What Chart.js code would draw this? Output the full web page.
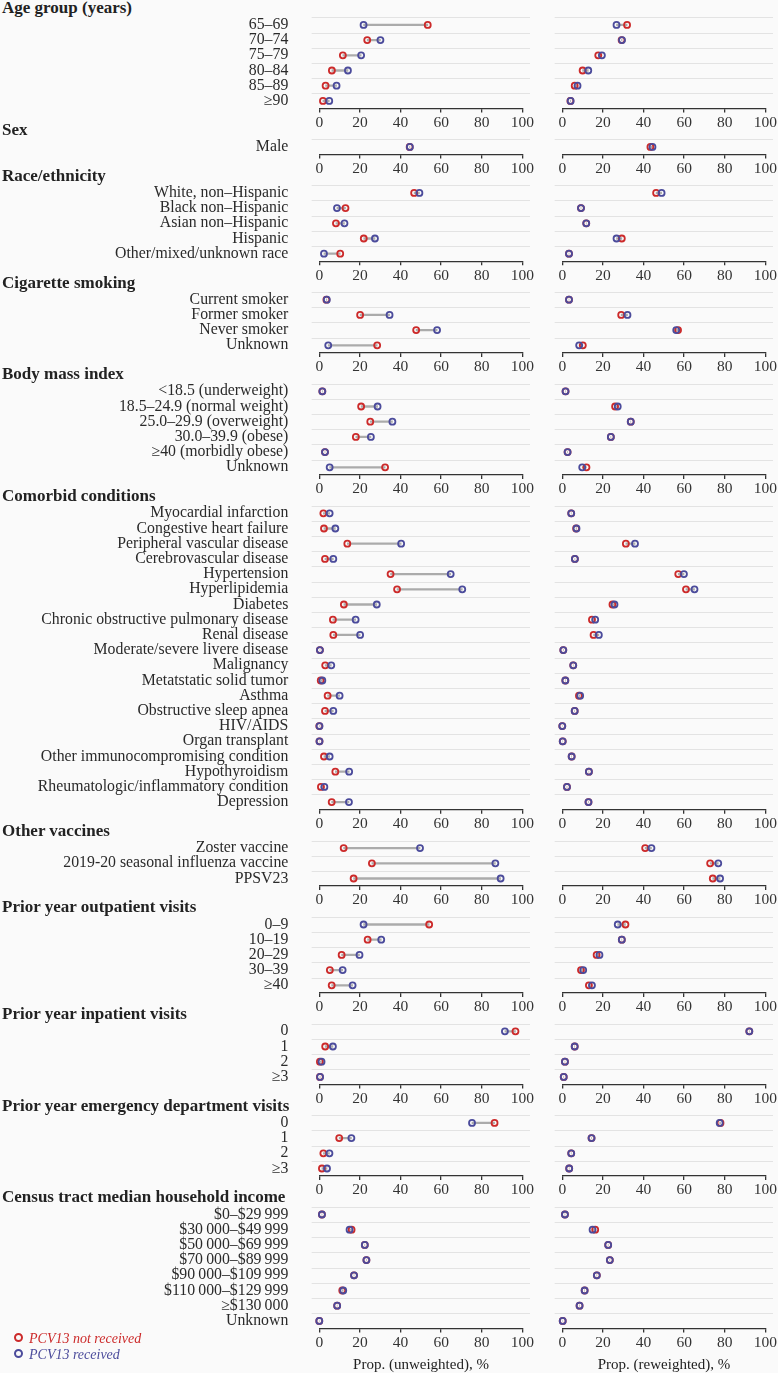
<!DOCTYPE html>
<html>
<head>
<meta charset="utf-8">
<script src="https://cdn.jsdelivr.net/npm/chart.js@4/dist/chart.umd.min.js"></script>
<style>
  html, body { margin: 0; padding: 0; background: #fafafa; }
  #page { position: relative; width: 778px; height: 1373px; overflow: hidden; background: #fafafa;
          font-family: 'Liberation Serif', 'Times New Roman', serif; color: #222; }
  canvas { position: absolute; }
  .head { position: absolute; left: 2px; font-weight: bold; font-size: 17px; line-height: 18px; white-space: nowrap; }
  .legend { position: absolute; left: 14px; font-style: italic; font-size: 14px; line-height: 16px; white-space: nowrap; }
  .legend span.dot { display: inline-block; width: 5px; height: 5px; border: 2px solid; border-radius: 50%;
                     margin-right: 6px; vertical-align: 1px; }
  .xtitle { position: absolute; width: 240px; text-align: center; font-size: 15px; line-height: 18px; color: #222; }
</style>
</head>
<body>
<div id="page"></div>
<script>
// ---- data (percent) ----
const ageLabels = ['65–69', '70–74', '75–79', '80–84', '85–89', '≥90'];
const ageUnwNot = [53.4, 23.6, 11.6, 6.2, 3.1, 1.8];
const ageUnwRec = [21.8, 30.1, 20.6, 14.1, 8.5, 4.9];
const ageRwNot = [31.9, 29.2, 17.7, 10.0, 6.1, 4.0];
const ageRwRec = [26.7, 29.4, 19.5, 12.8, 7.5, 4.1];

const sexLabels = ['Male'];
const sexUnwNot = [44.5];
const sexUnwRec = [44.6];
const sexRwNot = [43.4];
const sexRwRec = [44.4];

const raceLabels = ['White, non–Hispanic', 'Black non–Hispanic', 'Asian non–Hispanic', 'Hispanic', 'Other/mixed/unknown race'];
const raceUnwNot = [46.7, 12.9, 8.2, 21.9, 10.3];
const raceUnwRec = [49.3, 8.7, 12.4, 27.4, 2.3];
const raceRwNot = [46.2, 9.2, 11.8, 29.3, 3.3];
const raceRwRec = [48.9, 9.2, 11.8, 26.7, 3.3];

const smokeLabels = ['Current smoker', 'Former smoker', 'Never smoker', 'Unknown'];
const smokeUnwNot = [3.5, 20.1, 47.7, 28.5];
const smokeUnwRec = [3.7, 34.6, 58.0, 4.4];
const smokeRwNot = [3.3, 29.0, 57.0, 10.1];
const smokeRwRec = [3.3, 32.1, 56.1, 8.3];

const bmiLabels = ['<18.5 (underweight)', '18.5–24.9 (normal weight)', '25.0–29.9 (overweight)', '30.0–39.9 (obese)', '≥40 (morbidly obese)', 'Unknown'];
const bmiUnwNot = [1.5, 20.6, 25.1, 18.0, 2.8, 32.4];
const bmiUnwRec = [1.5, 28.7, 36.0, 25.4, 2.8, 5.1];
const bmiRwNot = [1.6, 26.0, 33.7, 23.9, 2.6, 11.9];
const bmiRwRec = [1.6, 27.3, 33.7, 23.9, 2.6, 9.8];

const comorbLabels = ['Myocardial infarction', 'Congestive heart failure', 'Peripheral vascular disease', 'Cerebrovascular disease',
  'Hypertension', 'Hyperlipidemia', 'Diabetes', 'Chronic obstructive pulmonary disease', 'Renal disease',
  'Moderate/severe livere disease', 'Malignancy', 'Metatstatic solid tumor', 'Asthma', 'Obstructive sleep apnea',
  'HIV/AIDS', 'Organ transplant', 'Other immunocompromising condition', 'Hypothyroidism',
  'Rheumatologic/inflammatory condition', 'Depression'];
const comorbUnwNot = [2.0, 2.3, 13.8, 2.8, 35.1, 38.3, 12.1, 6.7, 6.9, 0.3, 2.9, 0.7, 4.1, 2.8, 0.0, 0.1, 2.3, 7.9, 0.8, 6.1];
const comorbUnwRec = [5.1, 7.9, 40.3, 6.9, 64.7, 70.4, 28.3, 17.9, 20.1, 0.3, 5.9, 1.5, 10.0, 6.9, 0.1, 0.1, 5.1, 14.7, 2.5, 14.6];
const comorbRwNot = [4.4, 6.8, 31.3, 6.2, 57.1, 60.9, 24.7, 14.6, 15.4, 0.5, 5.4, 1.5, 8.2, 6.1, 0.0, 0.2, 4.6, 13.1, 2.3, 12.9];
const comorbRwRec = [4.4, 7.0, 35.8, 6.2, 59.9, 65.1, 25.7, 16.2, 18.0, 0.5, 5.4, 1.5, 8.8, 6.1, 0.0, 0.2, 4.6, 13.1, 2.3, 12.9];

const vaxLabels = ['Zoster vaccine', '2019-20 seasonal influenza vaccine', 'PPSV23'];
const vaxUnwNot = [12.0, 25.9, 16.9];
const vaxUnwRec = [49.6, 86.7, 89.3];
const vaxRwNot = [40.8, 72.8, 74.1];
const vaxRwRec = [43.9, 76.8, 77.7];

const outLabels = ['0–9', '10–19', '20–29', '30–39', '≥40'];
const outUnwNot = [54.1, 23.8, 11.0, 5.2, 6.1];
const outUnwRec = [21.8, 30.5, 19.8, 11.5, 16.4];
const outRwNot = [31.1, 29.3, 16.9, 9.2, 13.1];
const outRwRec = [27.3, 29.3, 18.3, 10.3, 14.6];

const inpLabels = ['0', '1', '2', '≥3'];
const inpUnwNot = [96.6, 2.9, 0.3, 0.3];
const inpUnwRec = [91.4, 6.7, 1.1, 0.4];
const inpRwNot = [92.1, 6.1, 1.3, 0.7];
const inpRwRec = [92.1, 6.1, 1.3, 0.7];

const edLabels = ['0', '1', '2', '≥3'];
const edUnwNot = [86.3, 9.8, 2.0, 1.3];
const edUnwRec = [75.2, 15.8, 5.0, 3.8];
const edRwNot = [77.9, 14.4, 4.4, 3.4];
const edRwRec = [77.5, 14.4, 4.4, 3.4];

const incLabels = ['$0–$29\u2009999', '$30\u2009000–$49\u2009999', '$50\u2009000–$69\u2009999', '$70\u2009000–$89\u2009999',
  '$90\u2009000–$109\u2009999', '$110\u2009000–$129\u2009999', '≥$130\u2009000', 'Unknown'];
const incUnwNot = [1.3, 15.9, 22.4, 23.2, 17.1, 11.3, 8.8, 0.0];
const incUnwRec = [1.3, 14.9, 22.4, 23.2, 17.1, 11.8, 8.8, 0.0];
const incRwNot = [1.3, 16.2, 22.6, 23.4, 17.0, 11.0, 8.5, 0.2];
const incRwRec = [1.3, 14.9, 22.6, 23.4, 17.0, 11.0, 8.5, 0.2];

const xTicks = [0, 20, 40, 60, 80, 100];

const sections = [
  { title: 'Age group (years)', labels: ageLabels, unw: [ageUnwNot, ageUnwRec], rw: [ageRwNot, ageRwRec] },
  { title: 'Sex', labels: sexLabels, unw: [sexUnwNot, sexUnwRec], rw: [sexRwNot, sexRwRec] },
  { title: 'Race/ethnicity', labels: raceLabels, unw: [raceUnwNot, raceUnwRec], rw: [raceRwNot, raceRwRec] },
  { title: 'Cigarette smoking', labels: smokeLabels, unw: [smokeUnwNot, smokeUnwRec], rw: [smokeRwNot, smokeRwRec] },
  { title: 'Body mass index', labels: bmiLabels, unw: [bmiUnwNot, bmiUnwRec], rw: [bmiRwNot, bmiRwRec] },
  { title: 'Comorbid conditions', labels: comorbLabels, unw: [comorbUnwNot, comorbUnwRec], rw: [comorbRwNot, comorbRwRec] },
  { title: 'Other vaccines', labels: vaxLabels, unw: [vaxUnwNot, vaxUnwRec], rw: [vaxRwNot, vaxRwRec] },
  { title: 'Prior year outpatient visits', labels: outLabels, unw: [outUnwNot, outUnwRec], rw: [outRwNot, outRwRec] },
  { title: 'Prior year inpatient visits', labels: inpLabels, unw: [inpUnwNot, inpUnwRec], rw: [inpRwNot, inpRwRec] },
  { title: 'Prior year emergency department visits', labels: edLabels, unw: [edUnwNot, edUnwRec], rw: [edRwNot, edRwRec] },
  { title: 'Census tract median household income', labels: incLabels, unw: [incUnwNot, incUnwRec], rw: [incRwNot, incRwRec] }
];

// ---- style / layout ----
const RED = '#cc2a2a';
const BLUE = '#4b4b9b';
const SERIF = "'Liberation Serif', 'Times New Roman', serif";
const ROW_H = 15.2;
const GAP = 30.8;
const FIRST_TOP = 17.3;
const X_AXIS_H = 24;

// light separators between rows, a bit wider than the plot area
const rowLines = {
    id: 'rowLines',
    beforeDatasetsDraw(chart) {
        const { ctx, chartArea: a, scales: { y } } = chart;
        ctx.save();
        ctx.strokeStyle = '#e3e3e3';
        ctx.lineWidth = 1;
        for (let i = 0; i < chart.data.labels.length; i++) {
            const yy = Math.round(y.getPixelForValue(i - 0.5)) + 0.5;
            ctx.beginPath();
            ctx.moveTo(a.left - 7.6, yy);
            ctx.lineTo(a.right + 7.6, yy);
            ctx.stroke();
        }
        ctx.restore();
    }
};

const page = document.getElementById('page');

function makePanel(sec, pair, left, secTop, showLabels) {
    const n = sec.labels.length;
    const cv = document.createElement('canvas');
    const cLeft = left ? 0 : 545;
    const cWidth = left ? 535 : 233;
    const cTop = Math.floor(secTop - 11);
    const padTop = secTop - cTop;
    const cHeight = Math.ceil(padTop + n * ROW_H + X_AXIS_H + 1);
    const padBottom = cHeight - padTop - n * ROW_H - X_AXIS_H;
    cv.width = cWidth;
    cv.height = cHeight;
    cv.style.left = cLeft + 'px';
    cv.style.top = cTop + 'px';
    page.appendChild(cv);

    const [notRec, rec] = pair;
    const pointDs = (data, color, order) => ({
        type: 'line',
        indexAxis: 'y',
        data: data,
        showLine: false,
        pointRadius: 3,
        pointHoverRadius: 3,
        pointBorderWidth: 1.8,
        pointBorderColor: color,
        pointBackgroundColor: 'rgba(0,0,0,0)',
        clip: false,
        order: order
    });

    new Chart(cv, {
        type: 'bar',
        data: {
            labels: sec.labels,
            datasets: [
                {
                    type: 'bar',
                    indexAxis: 'y',
                    data: sec.labels.map((_, i) => [notRec[i], rec[i]]),
                    backgroundColor: '#ababab',
                    barThickness: 1.6,
                    borderSkipped: false,
                    order: 3
                },
                pointDs(notRec, RED, 2),
                pointDs(rec, BLUE, 1)
            ]
        },
        options: {
            indexAxis: 'y',
            responsive: false,
            animation: false,
            events: [],
            layout: { padding: { top: padTop, bottom: padBottom, left: 0, right: 12 } },
            plugins: { legend: { display: false }, tooltip: { enabled: false } },
            scales: {
                x: {
                    type: 'linear',
                    position: 'bottom',
                    min: 0,
                    max: 100,
                    afterBuildTicks(s) { s.ticks = xTicks.map(v => ({ value: v })); },
                    ticks: { font: { family: SERIF, size: 15.5 }, color: '#333', padding: 1, maxRotation: 0, autoSkip: false },
                    grid: { drawOnChartArea: false, drawTicks: true, tickLength: 4, color: '#333', lineWidth: 1.3 },
                    border: { display: true, color: '#333', width: 1.3 },
                    afterFit(s) { s.height = X_AXIS_H; }
                },
                y: {
                    type: 'category',
                    offset: true,
                    // tick marks are not drawn (grid hidden) but their length spaces the labels off the plot
                    grid: { display: false, drawTicks: true, tickLength: 31 },
                    border: { display: false },
                    ticks: { display: showLabels, font: { family: SERIF, size: 15.8 }, color: '#2a2a2a', padding: 0, autoSkip: false },
                    afterFit(s) { s.width = left ? 319.3 : 17.3; }
                }
            }
        },
        plugins: [rowLines]
    });
}

let sectionTop = FIRST_TOP;
sections.forEach(sec => {
    const h = document.createElement('div');
    h.className = 'head';
    h.textContent = sec.title;
    h.style.top = (sectionTop - 18.5) + 'px';
    page.appendChild(h);

    makePanel(sec, sec.unw, true, sectionTop, true);
    makePanel(sec, sec.rw, false, sectionTop, false);
    sectionTop += sec.labels.length * ROW_H + GAP;
});

// legend
const legendItems = [['PCV13 not received', RED, 1331], ['PCV13 received', BLUE, 1346.5]];
legendItems.forEach(([txt, col, y]) => {
    const d = document.createElement('div');
    d.className = 'legend';
    d.style.top = y + 'px';
    d.style.color = col;
    d.innerHTML = '<span class="dot" style="border-color:' + col + '"></span>' + txt;
    page.appendChild(d);
});

// axis titles
[['Prop. (unweighted), %', 301], ['Prop. (reweighted), %', 544]].forEach(([txt, x]) => {
    const d = document.createElement('div');
    d.className = 'xtitle';
    d.textContent = txt;
    d.style.left = x + 'px';
    d.style.top = '1355px';
    page.appendChild(d);
});
</script>
</body>
</html>
